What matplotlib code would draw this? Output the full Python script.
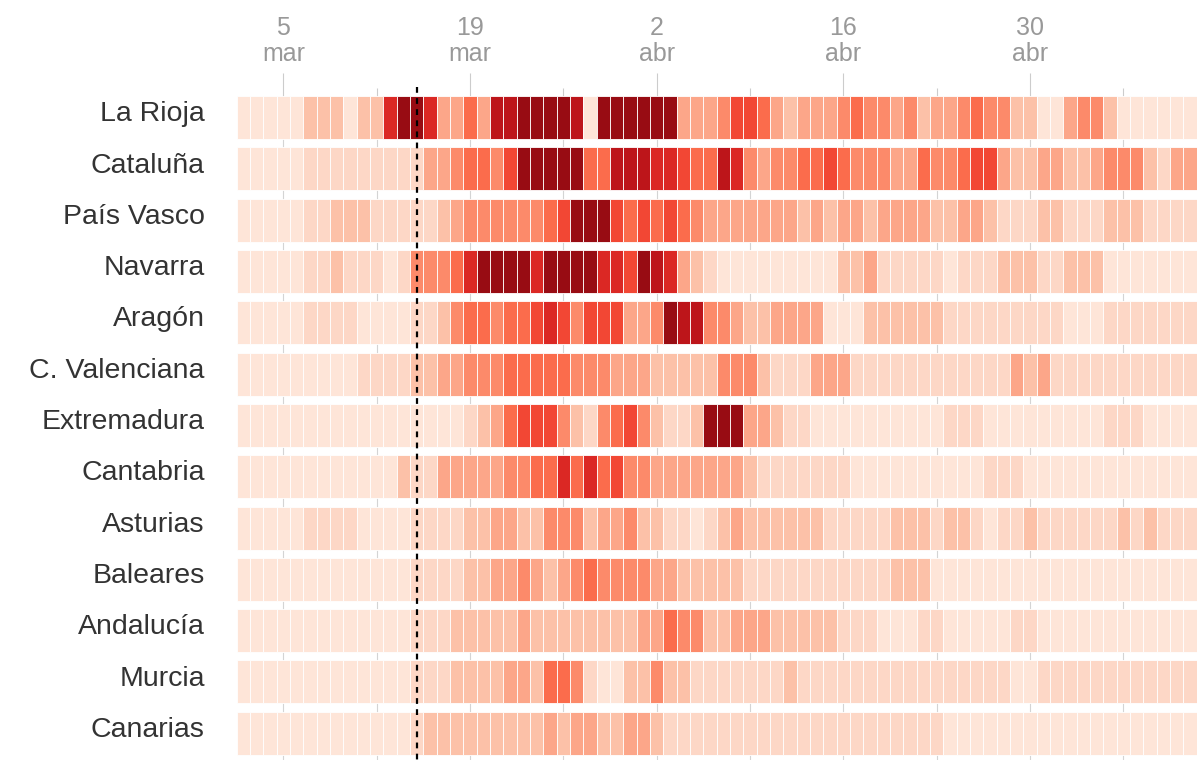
import numpy as np
import matplotlib
matplotlib.use('Agg')
import matplotlib.pyplot as plt
from matplotlib import colors as mcolors
from matplotlib import transforms as mtransforms

plt.rcParams['font.family'] = ['Liberation Sans', 'DejaVu Sans']

#==========================================================
# Data: intensity level (0 = lowest, 9 = highest) per day,
# one column per day from 2 mar (72 days)
#==========================================================
regions = ['La Rioja', 'Cataluña', 'País Vasco', 'Navarra', 'Aragón',
           'C. Valenciana', 'Extremadura', 'Cantabria', 'Asturias',
           'Baleares', 'Andalucía', 'Murcia', 'Canarias']

tick_days = [3, 17, 31, 45, 59]
tick_labels = ['5\nmar', '19\nmar', '2\nabr', '16\nabr', '30\nabr']
minor_days = [10, 24, 38, 52, 66]
alarm_day = 13

la_rioja = [0,0,0,0,0,2,2,2,0,2,2,7, 9,9,7,3,3,5,3,8,8,9,9,9,
            9,8,0,9,9,9,9,9,9,3,3,3, 4,6,6,5,3,2,3,3,3,4,5,4,
            4,3,4,2,3,3,4,5,4,4,2,2, 0,0,3,4,4,2,0,0,0,0,0,0]
cataluna = [0,0,0,0,0,1,1,1,1,1,1,1, 1,1,3,3,4,5,5,4,6,9,9,9,
            9,9,5,5,8,8,8,7,7,6,5,5, 8,7,4,3,4,4,5,5,6,5,4,4,
            4,3,3,5,4,4,5,6,6,3,2,2, 3,3,2,2,3,4,4,4,2,1,3,3]
pais_vasco = [0,0,0,0,0,1,1,2,2,2,1,1, 1,1,1,2,3,4,4,4,4,4,4,5,
              6,9,9,9,6,5,6,5,6,5,4,3, 3,3,3,3,3,3,2,3,2,3,3,2,
              3,3,3,3,2,2,3,3,2,1,1,1, 2,2,1,1,1,2,2,2,1,1,1,1]
navarra = [0,0,0,0,0,1,1,2,1,1,1,0, 1,4,4,4,5,7,9,9,9,9,7,9,
           9,9,9,7,7,6,9,8,7,3,2,1, 0,0,0,0,0,0,0,0,0,2,2,3,
           1,1,1,1,1,0,1,1,1,2,2,2, 1,1,2,2,2,0,0,0,0,0,0,0]
aragon = [0,0,0,0,0,1,1,1,1,0,0,0, 0,1,1,2,4,5,5,4,5,5,6,7,
          6,4,6,6,6,3,3,4,9,8,8,4, 4,3,2,2,3,3,3,3,0,0,0,2,
          2,2,2,2,2,1,1,1,1,1,1,1, 1,1,0,0,0,1,1,1,1,1,1,1]
valenciana = [0,0,0,0,0,0,0,0,0,1,1,1, 1,2,2,3,3,4,4,4,5,5,5,5,
              5,4,4,4,3,3,3,2,2,2,2,2, 4,4,4,2,1,1,1,3,3,3,1,1,
              1,1,1,1,1,1,1,1,1,1,3,2, 3,1,1,1,1,1,1,1,1,1,1,1]
extremadura = [0,0,0,0,0,0,0,0,0,0,0,0, 0,0,0,0,0,1,2,3,5,6,6,6,
               4,2,1,4,5,6,4,2,1,1,2,9, 9,9,3,3,2,1,1,0,0,0,0,0,
               0,0,0,0,0,1,1,1,0,0,0,0, 0,0,0,0,0,1,1,1,0,0,0,0]
cantabria = [0,0,0,0,0,0,0,0,0,0,0,0, 2,1,1,3,3,3,3,3,4,4,5,5,
             7,5,7,5,6,4,4,3,3,3,3,3, 3,3,2,1,1,1,1,1,1,1,0,0,
             0,0,0,0,0,0,0,0,1,1,1,0, 0,0,0,0,0,0,0,0,0,0,0,0]
asturias = [0,0,0,0,0,1,1,1,1,0,0,0, 0,1,1,1,1,2,2,3,3,2,2,4,
            4,4,2,3,3,4,2,2,1,1,0,1, 2,3,2,2,2,2,2,2,1,1,1,1,
            1,2,2,2,1,2,2,1,0,1,1,2, 1,1,1,1,1,1,2,1,2,1,1,1]
baleares = [0,0,0,0,0,0,0,0,0,0,0,0, 0,1,1,1,1,2,2,3,3,4,3,2,
            3,4,5,4,4,4,4,3,3,2,2,2, 2,2,1,1,1,1,1,1,1,1,1,1,
            1,2,2,2,0,0,0,0,0,0,0,0, 0,0,0,0,0,0,0,0,0,0,0,0]
andalucia = [0,0,0,0,0,0,0,0,0,0,0,0, 0,1,1,1,2,2,2,2,2,3,2,2,
             2,2,2,2,2,2,3,3,5,4,4,2, 2,3,3,3,2,2,2,2,2,1,1,1,
             0,0,0,1,1,0,0,0,0,0,1,1, 0,0,0,0,0,0,0,0,0,0,0,0]
murcia = [0,0,0,0,0,0,0,0,0,0,0,0, 0,1,1,1,2,2,2,2,3,3,2,5,
          5,4,1,0,0,2,2,4,2,2,1,1, 1,1,1,1,1,2,1,1,1,1,1,1,
          1,1,1,1,1,1,1,1,1,1,0,0, 1,1,1,1,1,1,1,1,1,1,1,1]
canarias = [0,0,0,0,0,0,0,0,0,0,0,0, 0,1,2,2,2,2,2,2,2,2,2,3,
            2,3,3,2,2,3,3,2,1,1,1,1, 1,1,1,1,1,1,1,1,1,1,1,1,
            1,1,1,1,1,0,0,0,0,0,0,0, 0,0,0,0,0,0,0,0,0,0,0,0]

levels = np.array([la_rioja, cataluna, pais_vasco, navarra, aragon,
                   valenciana, extremadura, cantabria, asturias,
                   baleares, andalucia, murcia, canarias])
n_rows, n_days = levels.shape
days = np.arange(n_days)

#==========================================================
# plot
#==========================================================
base = plt.get_cmap('Reds')
cmap = mcolors.LinearSegmentedColormap.from_list('reds_cut', base(np.linspace(0.1, 0.9, 256)))
norm = mcolors.PowerNorm(gamma=1.2, vmin=0, vmax=9)

fig = plt.figure(figsize=(12, 7.6), dpi=100)
ax = fig.add_axes([0.19725, 0.0, 0.8, 0.8737])

bar_h = 0.838
for r in range(n_rows):
    ax.barh(np.full(n_days, r), np.ones(n_days), height=bar_h, left=days,
            color=cmap(norm(levels[r])), edgecolor='white', linewidth=0.6, zorder=2)

for d in tick_days + minor_days:
    ax.axvline(d + 0.5, color='#d4d4d4', lw=0.8, zorder=1)

top = -bar_h / 2
ax.set_xlim(0, n_days)
ax.set_ylim(top + 12.94, top)

# start of state of alarm
ax.plot([alarm_day + 0.5, alarm_day + 0.5], [top - 0.18, top + 12.94],
        color='black', lw=1.6, linestyle=(0, (2.6, 2.4)), zorder=5, clip_on=False)

ax.xaxis.tick_top()
ax.set_xticks(np.array(tick_days) + 0.5)
ax.set_xticklabels(tick_labels)
ax.set_xticks(np.array(minor_days) + 0.5, minor=True)
ax.tick_params(axis='x', which='major', length=16.5, width=0.8, color='#cccccc',
               labelsize=18, labelcolor='#999999', pad=5)
ax.tick_params(axis='x', which='minor', length=6, width=0.8, color='#cccccc')
for lab in ax.get_xticklabels():
    lab.set_linespacing(1.1)

ax.set_yticks(np.arange(n_rows))
ax.set_yticklabels(regions)
ax.tick_params(axis='y', length=0, labelsize=20.5, labelcolor='#333333', pad=23)
shift = mtransforms.ScaledTranslation(0, 4.5 / 72, fig.dpi_scale_trans)
for lab in ax.get_yticklabels():
    lab.set_transform(lab.get_transform() + shift)

for s in ax.spines.values():
    s.set_visible(False)

plt.savefig('out.png', dpi=100)
plt.close()
